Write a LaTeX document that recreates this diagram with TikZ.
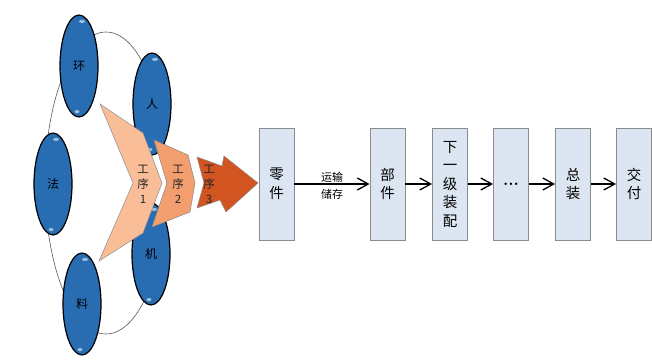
\documentclass[tikz,border=0pt]{standalone}
\usepackage{fontspec}
\newfontfamily\cjk{Noto Sans CJK SC}
\usetikzlibrary{arrows.meta,shapes.geometric,calc}
\definecolor{blobblue}{RGB}{40,108,178}
\definecolor{chevA}{RGB}{249,190,152}
\definecolor{chevB}{RGB}{242,158,110}
\definecolor{chevC}{RGB}{210,84,32}
\definecolor{boxblue}{RGB}{220,230,242}
\definecolor{boxline}{RGB}{140,140,140}
\tikzset{
  blob/.style={ellipse, draw=black, line width=1.2pt, fill=blobblue, inner sep=0pt,
    minimum width=38pt, minimum height=102pt, font=\cjk\fontsize{12}{12}\selectfont, text=black},
  hl/.style={fill=white!55!blobblue},
  chevshape/.style={draw=black!45, line width=0.5pt},
  chevtext/.style={align=center, inner sep=0pt, font=\cjk\fontsize{11.5}{15}\selectfont, text=black!85},
  stagebox/.style={draw=boxline, line width=0.8pt, fill=boxblue, minimum width=35pt,
    minimum height=112pt, inner sep=0pt, align=center, font=\cjk\fontsize{14.5}{18.5}\selectfont},
  flow/.style={line width=1.3pt, -{Straight Barb[length=11pt,width=12pt,line width=1.3pt]}},
  lbl/.style={inner sep=0pt, font=\cjk\fontsize{11}{11}\selectfont}
}
\begin{document}
\begin{tikzpicture}[x=1pt,y=-1pt]
\useasboundingbox (0,0) rectangle (652,361);
\fill[white] (0,0) rectangle (652,361);
% ring
\draw[black!65, line width=0.6pt] (106,183) ellipse [x radius=61, y radius=151];
% ellipses
\node[blob] (huan) at (79,66) {环};
\node[blob] (ren) at (152,104) {人};
\node[blob] (fa) at (53,184) {法};
\node[blob] (ji) at (151,254) {机};
\node[blob] (liao) at (82,304) {料};
\foreach \n in {huan,ren,fa,ji,liao}{
  \fill[hl] ($(\n.north)+(3,7)$) ellipse [x radius=3, y radius=1.6];
  \fill[hl] ($(\n.south)+(-2,-6)$) ellipse [x radius=2.5, y radius=1.6];
}
% chevrons
\draw[chevshape, fill=chevA] (100,104) -- (143,133) -- (162,183) -- (143,233) -- (99,261) -- (133,183) -- cycle;
\draw[chevshape, fill=chevB] (154,140) -- (188,155) -- (195,183) -- (190,212) -- (152,227) -- (167,183) -- cycle;
\draw[chevshape, fill=chevC] (197,157) -- (222,166) -- (224,156) -- (258,183) -- (226,212) -- (220,200) -- (197,208) -- (204,183) -- cycle;
\node[chevtext] (p1) at (143,184) {工\\序\\1};
\node[chevtext] (p2) at (178,184) {工\\序\\2};
\node[chevtext] (p3) at (209,184) {工\\序\\3};
% stages
\node[stagebox] (ling) at (276.5,184) {零\\件};
\node[stagebox] (bu) at (387.5,184) {部\\件};
\node[stagebox] (xia) at (450,184) {下\\一\\级\\装\\配};
\node[stagebox] (dots) at (511,184) {\rmfamily\bfseries\fontsize{17}{17}\selectfont ...};
\node[stagebox] (zong) at (573,184) {总\\装};
\node[stagebox] (jiao) at (634,184) {交\\付};
\draw[flow] (ling) -- (bu);
\draw[flow] (bu) -- (xia);
\draw[flow] (xia) -- (dots);
\draw[flow] (dots) -- (zong);
\draw[flow] (zong) -- (jiao);
\node[lbl] (t1) at (332,177) {运输};
\node[lbl] (t2) at (332,194) {储存};
\end{tikzpicture}
\end{document}
